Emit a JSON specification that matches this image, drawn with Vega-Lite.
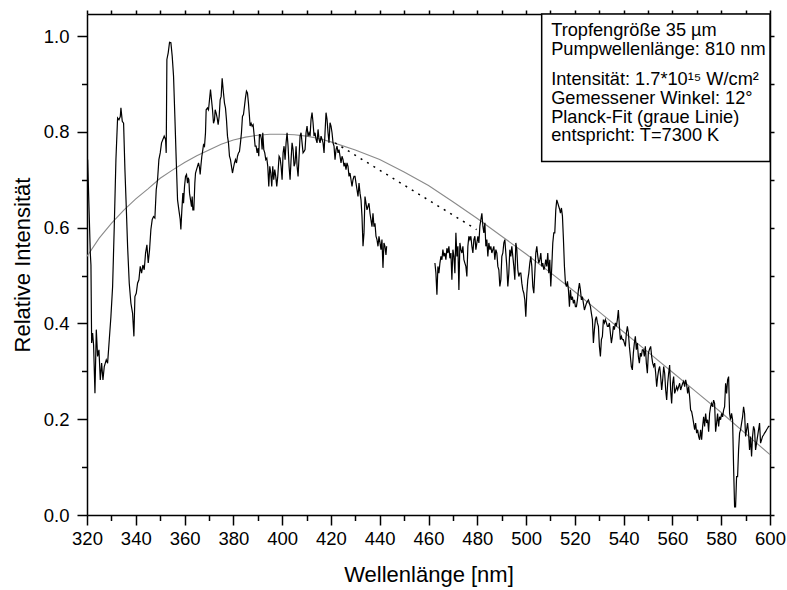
{
  "$schema": "https://vega.github.io/schema/vega-lite/v6.json",
  "width": 683,
  "height": 501,
  "autosize": {"type": "none"},
  "padding": {"left": 87, "top": 14, "right": 17, "bottom": 75},
  "background": "white",
  "config": {
    "font": "Liberation Sans",
    "view": {"stroke": null},
    "axis": {
      "grid": false,
      "domainColor": "black",
      "domainWidth": 1.5,
      "tickColor": "black",
      "tickWidth": 1.5,
      "labelColor": "black",
      "titleColor": "black",
      "labelFont": "Liberation Sans",
      "titleFont": "Liberation Sans",
      "titleFontWeight": "normal",
      "labelOverlap": false,
      "labelFlush": false
    }
  },
  "datasets": {
    "spectrum": [
      {"s":1,"nm":320.26,"v":0.742},{"s":1,"nm":321.35,"v":0.547},{"s":1,"nm":321.62,"v":0.522},{"s":1,"nm":321.9,"v":0.359},{"s":1,"nm":322.3,"v":0.38},{"s":1,"nm":322.7,"v":0.355},{"s":1,"nm":323.26,"v":0.254},{"s":1,"nm":323.81,"v":0.387},{"s":1,"nm":324.35,"v":0.331},{"s":1,"nm":324.9,"v":0.345},{"s":1,"nm":325.45,"v":0.282},{"s":1,"nm":326.0,"v":0.317},{"s":1,"nm":326.54,"v":0.282},{"s":1,"nm":327.08,"v":0.31},{"s":1,"nm":327.9,"v":0.324},{"s":1,"nm":328.45,"v":0.317},{"s":1,"nm":329.13,"v":0.366},{"s":1,"nm":329.8,"v":0.414},{"s":1,"nm":330.5,"v":0.477},{"s":1,"nm":331.18,"v":0.603},{"s":1,"nm":331.86,"v":0.742},{"s":1,"nm":332.54,"v":0.829},{"s":1,"nm":333.09,"v":0.825},{"s":1,"nm":333.64,"v":0.832},{"s":1,"nm":333.91,"v":0.85},{"s":1,"nm":334.46,"v":0.822},{"s":1,"nm":335.0,"v":0.818},{"s":1,"nm":335.55,"v":0.721},{"s":1,"nm":336.09,"v":0.644},{"s":1,"nm":336.64,"v":0.561},{"s":1,"nm":337.32,"v":0.484},{"s":1,"nm":338.0,"v":0.442},{"s":1,"nm":338.69,"v":0.421},{"s":1,"nm":339.23,"v":0.373},{"s":1,"nm":339.64,"v":0.456},{"s":1,"nm":340.19,"v":0.463},{"s":1,"nm":340.73,"v":0.484},{"s":1,"nm":341.28,"v":0.491},{"s":1,"nm":341.83,"v":0.519},{"s":1,"nm":342.37,"v":0.505},{"s":1,"nm":342.92,"v":0.522},{"s":1,"nm":343.46,"v":0.512},{"s":1,"nm":344.01,"v":0.547},{"s":1,"nm":344.56,"v":0.564},{"s":1,"nm":345.1,"v":0.526},{"s":1,"nm":345.65,"v":0.554},{"s":1,"nm":346.19,"v":0.596},{"s":1,"nm":346.74,"v":0.617},{"s":1,"nm":347.29,"v":0.623},{"s":1,"nm":347.83,"v":0.62},{"s":1,"nm":348.38,"v":0.679},{"s":1,"nm":348.92,"v":0.7},{"s":1,"nm":349.47,"v":0.742},{"s":1,"nm":350.02,"v":0.756},{"s":1,"nm":350.56,"v":0.777},{"s":1,"nm":351.11,"v":0.784},{"s":1,"nm":351.65,"v":0.791},{"s":1,"nm":352.2,"v":0.784},{"s":1,"nm":352.47,"v":0.756},{"s":1,"nm":352.75,"v":0.951},{"s":1,"nm":353.29,"v":0.965},{"s":1,"nm":353.84,"v":0.987},{"s":1,"nm":354.39,"v":0.986},{"s":1,"nm":354.93,"v":0.958},{"s":1,"nm":355.48,"v":0.916},{"s":1,"nm":356.02,"v":0.832},{"s":1,"nm":356.57,"v":0.742},{"s":1,"nm":357.12,"v":0.658},{"s":1,"nm":357.66,"v":0.637},{"s":1,"nm":358.21,"v":0.617},{"s":1,"nm":358.48,"v":0.596},
      {"s":1,"nm":358.89,"v":0.637},{"s":1,"nm":359.3,"v":0.672},{"s":1,"nm":359.57,"v":0.651},{"s":1,"nm":359.98,"v":0.686},{"s":1,"nm":360.39,"v":0.707},{"s":1,"nm":360.8,"v":0.711},{"s":1,"nm":361.21,"v":0.693},{"s":1,"nm":361.48,"v":0.704},{"s":1,"nm":361.76,"v":0.7},{"s":1,"nm":362.03,"v":0.672},{"s":1,"nm":362.44,"v":0.658},{"s":1,"nm":362.85,"v":0.644},{"s":1,"nm":363.12,"v":0.665},{"s":1,"nm":363.39,"v":0.637},{"s":1,"nm":363.8,"v":0.637},{"s":1,"nm":364.21,"v":0.693},{"s":1,"nm":364.49,"v":0.714},{"s":1,"nm":364.9,"v":0.721},{"s":1,"nm":365.3,"v":0.728},{"s":1,"nm":365.71,"v":0.735},{"s":1,"nm":366.12,"v":0.725},{"s":1,"nm":366.4,"v":0.711},{"s":1,"nm":366.67,"v":0.728},{"s":1,"nm":367.08,"v":0.749},{"s":1,"nm":367.49,"v":0.763},{"s":1,"nm":367.76,"v":0.773},{"s":1,"nm":368.17,"v":0.77},{"s":1,"nm":368.58,"v":0.798},{"s":1,"nm":368.85,"v":0.846},{"s":1,"nm":369.4,"v":0.85},{"s":1,"nm":369.81,"v":0.846},{"s":1,"nm":370.22,"v":0.867},{"s":1,"nm":370.63,"v":0.888},{"s":1,"nm":371.04,"v":0.867},{"s":1,"nm":371.45,"v":0.846},{"s":1,"nm":371.86,"v":0.818},{"s":1,"nm":372.27,"v":0.825},{"s":1,"nm":372.54,"v":0.846},{"s":1,"nm":372.95,"v":0.839},{"s":1,"nm":373.36,"v":0.829},{"s":1,"nm":373.77,"v":0.815},{"s":1,"nm":374.18,"v":0.832},{"s":1,"nm":374.59,"v":0.867},{"s":1,"nm":375.0,"v":0.874},{"s":1,"nm":375.41,"v":0.912},{"s":1,"nm":375.82,"v":0.888},{"s":1,"nm":376.36,"v":0.86},{"s":1,"nm":376.77,"v":0.85},{"s":1,"nm":377.18,"v":0.825},{"s":1,"nm":377.59,"v":0.791},{"s":1,"nm":378.0,"v":0.777},{"s":1,"nm":378.41,"v":0.749},{"s":1,"nm":378.82,"v":0.742},{"s":1,"nm":379.23,"v":0.728},{"s":1,"nm":379.64,"v":0.714},{"s":1,"nm":380.05,"v":0.725},{"s":1,"nm":380.46,"v":0.735},{"s":1,"nm":380.87,"v":0.742},{"s":1,"nm":381.28,"v":0.735},{"s":1,"nm":381.69,"v":0.749},{"s":1,"nm":382.1,"v":0.756},{"s":1,"nm":382.5,"v":0.759},{"s":1,"nm":382.91,"v":0.777},{"s":1,"nm":383.32,"v":0.798},{"s":1,"nm":383.73,"v":0.832},{"s":1,"nm":384.14,"v":0.836},{"s":1,"nm":384.55,"v":0.853},{"s":1,"nm":384.96,"v":0.871},{"s":1,"nm":385.37,"v":0.885},{"s":1,"nm":385.78,"v":0.881},{"s":1,"nm":386.19,"v":0.86},{"s":1,"nm":386.6,"v":0.832},{"s":1,"nm":386.87,"v":0.812},{"s":1,"nm":387.28,"v":0.818},{"s":1,"nm":387.69,"v":0.812},{"s":1,"nm":388.1,"v":0.815},{"s":1,"nm":388.51,"v":0.794},{"s":1,"nm":388.92,"v":0.77},{"s":1,"nm":389.33,"v":0.77},{"s":1,"nm":389.74,"v":0.756},{"s":1,"nm":390.15,"v":0.766},{"s":1,"nm":390.42,"v":0.749},{"s":1,"nm":390.69,"v":0.794},{"s":1,"nm":390.97,"v":0.794},{"s":1,"nm":391.24,"v":0.791},{"s":1,"nm":391.51,"v":0.784},{"s":1,"nm":391.79,"v":0.763},{"s":1,"nm":392.06,"v":0.798},{"s":1,"nm":392.47,"v":0.763},{"s":1,"nm":392.88,"v":0.756},{"s":1,"nm":393.29,"v":0.742},{"s":1,"nm":393.7,"v":0.745},{"s":1,"nm":394.11,"v":0.728},{"s":1,"nm":394.52,"v":0.686},{"s":1,"nm":394.93,"v":0.728},{"s":1,"nm":395.33,"v":0.714},{"s":1,"nm":395.74,"v":0.686},{"s":1,"nm":396.15,"v":0.728},{"s":1,"nm":396.56,"v":0.7},{"s":1,"nm":396.97,"v":0.721},{"s":1,"nm":397.38,"v":0.707},{"s":1,"nm":397.79,"v":0.686},{"s":1,"nm":398.2,"v":0.707},
      {"s":1,"nm":398.75,"v":0.749},{"s":1,"nm":399.16,"v":0.745},{"s":1,"nm":399.57,"v":0.728},{"s":1,"nm":399.98,"v":0.7},{"s":1,"nm":400.39,"v":0.756},{"s":1,"nm":400.79,"v":0.77},{"s":1,"nm":401.2,"v":0.742},{"s":1,"nm":401.61,"v":0.777},{"s":1,"nm":402.02,"v":0.798},{"s":1,"nm":402.43,"v":0.77},{"s":1,"nm":402.84,"v":0.728},{"s":1,"nm":403.25,"v":0.7},{"s":1,"nm":403.66,"v":0.742},{"s":1,"nm":404.07,"v":0.777},{"s":1,"nm":404.48,"v":0.763},{"s":1,"nm":404.89,"v":0.728},{"s":1,"nm":405.3,"v":0.735},{"s":1,"nm":405.71,"v":0.77},{"s":1,"nm":406.12,"v":0.728},{"s":1,"nm":406.53,"v":0.707},{"s":1,"nm":406.94,"v":0.749},{"s":1,"nm":407.35,"v":0.791},{"s":1,"nm":407.76,"v":0.798},{"s":1,"nm":408.17,"v":0.777},{"s":1,"nm":408.58,"v":0.756},{"s":1,"nm":408.98,"v":0.759},{"s":1,"nm":409.39,"v":0.763},{"s":1,"nm":409.8,"v":0.798},{"s":1,"nm":410.21,"v":0.812},{"s":1,"nm":410.62,"v":0.791},{"s":1,"nm":411.03,"v":0.798},{"s":1,"nm":411.44,"v":0.791},{"s":1,"nm":411.85,"v":0.826},{"s":1,"nm":412.26,"v":0.84},{"s":1,"nm":412.67,"v":0.819},{"s":1,"nm":413.08,"v":0.791},{"s":1,"nm":413.49,"v":0.798},{"s":1,"nm":413.9,"v":0.784},{"s":1,"nm":414.31,"v":0.777},{"s":1,"nm":414.72,"v":0.805},{"s":1,"nm":415.13,"v":0.784},{"s":1,"nm":415.54,"v":0.777},{"s":1,"nm":415.95,"v":0.791},{"s":1,"nm":416.36,"v":0.784},{"s":1,"nm":416.77,"v":0.777},{"s":1,"nm":417.18,"v":0.756},{"s":1,"nm":417.58,"v":0.798},{"s":1,"nm":417.99,"v":0.84},{"s":1,"nm":418.4,"v":0.826},{"s":1,"nm":418.81,"v":0.798},{"s":1,"nm":419.22,"v":0.777},{"s":1,"nm":419.63,"v":0.819},{"s":1,"nm":420.04,"v":0.812},{"s":1,"nm":420.45,"v":0.798},{"s":1,"nm":420.86,"v":0.777},{"s":1,"nm":421.27,"v":0.77},{"s":1,"nm":421.68,"v":0.742},{"s":1,"nm":422.09,"v":0.763},{"s":1,"nm":422.5,"v":0.77},{"s":1,"nm":422.91,"v":0.756},{"s":1,"nm":423.32,"v":0.763},{"s":1,"nm":423.73,"v":0.749},{"s":1,"nm":424.14,"v":0.735},{"s":1,"nm":424.55,"v":0.749},{"s":1,"nm":424.96,"v":0.742},{"s":1,"nm":425.37,"v":0.728},{"s":1,"nm":425.77,"v":0.735},{"s":1,"nm":426.18,"v":0.721},{"s":1,"nm":426.59,"v":0.735},{"s":1,"nm":427.0,"v":0.728},{"s":1,"nm":427.41,"v":0.707},{"s":1,"nm":427.82,"v":0.714},{"s":1,"nm":428.23,"v":0.7},{"s":1,"nm":428.64,"v":0.686},{"s":1,"nm":429.05,"v":0.7},{"s":1,"nm":429.46,"v":0.707},{"s":1,"nm":429.87,"v":0.707},{"s":1,"nm":430.28,"v":0.693},{"s":1,"nm":430.69,"v":0.679},{"s":1,"nm":431.1,"v":0.665},{"s":1,"nm":431.51,"v":0.693},{"s":1,"nm":431.92,"v":0.672},{"s":1,"nm":432.33,"v":0.658},{"s":1,"nm":432.74,"v":0.623},{"s":1,"nm":433.15,"v":0.561},{"s":1,"nm":433.56,"v":0.589},{"s":1,"nm":433.96,"v":0.665},{"s":1,"nm":434.37,"v":0.651},{"s":1,"nm":434.78,"v":0.637},{"s":1,"nm":435.19,"v":0.644},{"s":1,"nm":435.6,"v":0.651},{"s":1,"nm":436.01,"v":0.63},{"s":1,"nm":436.42,"v":0.616},{"s":1,"nm":436.83,"v":0.602},{"s":1,"nm":437.24,"v":0.63},{"s":1,"nm":437.65,"v":0.602},{"s":1,"nm":438.06,"v":0.609},{"s":1,"nm":438.47,"v":0.582},{"s":1,"nm":438.88,"v":0.575},{"s":1,"nm":439.29,"v":0.561},{"s":1,"nm":439.7,"v":0.582},{"s":1,"nm":440.11,"v":0.568},{"s":1,"nm":440.52,"v":0.554},{"s":1,"nm":440.92,"v":0.575},{"s":1,"nm":441.33,"v":0.516},{"s":1,"nm":441.74,"v":0.568},{"s":1,"nm":442.15,"v":0.561},{"s":1,"nm":442.56,"v":0.543},{"s":1,"nm":442.84,"v":0.561},
      {"s":2,"nm":462.63,"v":0.526},{"s":2,"nm":463.04,"v":0.505},{"s":2,"nm":463.45,"v":0.46},{"s":2,"nm":463.86,"v":0.519},{"s":2,"nm":464.27,"v":0.505},{"s":2,"nm":464.68,"v":0.526},{"s":2,"nm":465.09,"v":0.54},{"s":2,"nm":465.5,"v":0.533},{"s":2,"nm":465.9,"v":0.554},{"s":2,"nm":466.31,"v":0.54},{"s":2,"nm":466.72,"v":0.547},{"s":2,"nm":467.13,"v":0.533},{"s":2,"nm":467.54,"v":0.557},{"s":2,"nm":467.95,"v":0.547},{"s":2,"nm":468.36,"v":0.561},{"s":2,"nm":468.77,"v":0.536},{"s":2,"nm":469.18,"v":0.547},{"s":2,"nm":469.59,"v":0.491},{"s":2,"nm":470.0,"v":0.554},{"s":2,"nm":470.41,"v":0.54},{"s":2,"nm":470.82,"v":0.505},{"s":2,"nm":471.23,"v":0.589},{"s":2,"nm":471.64,"v":0.54},{"s":2,"nm":472.05,"v":0.561},{"s":2,"nm":472.46,"v":0.47},{"s":2,"nm":472.87,"v":0.568},{"s":2,"nm":473.28,"v":0.554},{"s":2,"nm":473.69,"v":0.547},{"s":2,"nm":474.1,"v":0.561},{"s":2,"nm":474.51,"v":0.533},{"s":2,"nm":474.91,"v":0.526},{"s":2,"nm":475.32,"v":0.519},{"s":2,"nm":475.73,"v":0.498},{"s":2,"nm":476.14,"v":0.561},{"s":2,"nm":476.55,"v":0.582},{"s":2,"nm":476.96,"v":0.575},{"s":2,"nm":477.37,"v":0.582},{"s":2,"nm":477.78,"v":0.561},{"s":2,"nm":478.19,"v":0.547},{"s":2,"nm":478.6,"v":0.575},{"s":2,"nm":479.01,"v":0.582},{"s":2,"nm":479.42,"v":0.554},{"s":2,"nm":479.83,"v":0.568},{"s":2,"nm":480.24,"v":0.582},{"s":2,"nm":480.65,"v":0.568},{"s":2,"nm":481.06,"v":0.603},{"s":2,"nm":481.47,"v":0.617},{"s":2,"nm":481.88,"v":0.63},{"s":2,"nm":482.29,"v":0.603},{"s":2,"nm":482.7,"v":0.589},{"s":2,"nm":483.11,"v":0.61},{"s":2,"nm":483.51,"v":0.561},{"s":2,"nm":483.92,"v":0.575},{"s":2,"nm":484.33,"v":0.54},{"s":2,"nm":484.74,"v":0.568},{"s":2,"nm":485.15,"v":0.554},{"s":2,"nm":485.56,"v":0.561},{"s":2,"nm":485.97,"v":0.547},{"s":2,"nm":486.38,"v":0.554},{"s":2,"nm":486.79,"v":0.561},{"s":2,"nm":487.2,"v":0.533},{"s":2,"nm":487.61,"v":0.554},{"s":2,"nm":488.02,"v":0.547},{"s":2,"nm":488.43,"v":0.519},{"s":2,"nm":488.84,"v":0.512},{"s":2,"nm":489.25,"v":0.477},{"s":2,"nm":489.66,"v":0.491},{"s":2,"nm":490.07,"v":0.54},{"s":2,"nm":490.48,"v":0.547},{"s":2,"nm":490.89,"v":0.568},{"s":2,"nm":491.3,"v":0.575},{"s":2,"nm":491.7,"v":0.547},{"s":2,"nm":492.11,"v":0.519},{"s":2,"nm":492.52,"v":0.477},{"s":2,"nm":492.93,"v":0.505},{"s":2,"nm":493.34,"v":0.554},{"s":2,"nm":493.75,"v":0.54},{"s":2,"nm":494.16,"v":0.561},{"s":2,"nm":494.57,"v":0.54},{"s":2,"nm":494.98,"v":0.519},{"s":2,"nm":495.39,"v":0.491},{"s":2,"nm":495.8,"v":0.568},{"s":2,"nm":496.21,"v":0.554},{"s":2,"nm":496.62,"v":0.512},{"s":2,"nm":497.03,"v":0.498},{"s":2,"nm":497.44,"v":0.505},{"s":2,"nm":497.85,"v":0.505},{"s":2,"nm":498.26,"v":0.484},{"s":2,"nm":498.67,"v":0.47},{"s":2,"nm":499.08,"v":0.463},{"s":2,"nm":499.49,"v":0.449},{"s":2,"nm":499.89,"v":0.414},{"s":2,"nm":500.3,"v":0.463},{"s":2,"nm":500.71,"v":0.491},{"s":2,"nm":501.12,"v":0.505},{"s":2,"nm":501.53,"v":0.526},{"s":2,"nm":501.94,"v":0.54},{"s":2,"nm":502.35,"v":0.519},{"s":2,"nm":502.76,"v":0.477},{"s":2,"nm":503.17,"v":0.463},{"s":2,"nm":503.58,"v":0.505},{"s":2,"nm":503.99,"v":0.547},{"s":2,"nm":504.4,"v":0.561},{"s":2,"nm":504.81,"v":0.54},{"s":2,"nm":505.22,"v":0.526},{"s":2,"nm":505.63,"v":0.533},{"s":2,"nm":506.04,"v":0.547},{"s":2,"nm":506.45,"v":0.519},{"s":2,"nm":506.86,"v":0.526},{"s":2,"nm":507.27,"v":0.512},{"s":2,"nm":507.68,"v":0.519},{"s":2,"nm":508.08,"v":0.533},{"s":2,"nm":508.49,"v":0.519},{"s":2,"nm":508.9,"v":0.547},{"s":2,"nm":509.31,"v":0.505},{"s":2,"nm":509.72,"v":0.533},{"s":2,"nm":510.13,"v":0.477},{"s":2,"nm":510.54,"v":0.519},{"s":2,"nm":510.95,"v":0.568},{"s":2,"nm":511.36,"v":0.589},{"s":2,"nm":511.77,"v":0.589},{"s":2,"nm":512.18,"v":0.637},{"s":2,"nm":512.59,"v":0.658},{"s":2,"nm":513.0,"v":0.651},{"s":2,"nm":513.41,"v":0.644},{"s":2,"nm":513.82,"v":0.637},
      {"s":2,"nm":514.09,"v":0.63},{"s":2,"nm":514.5,"v":0.641},{"s":2,"nm":514.91,"v":0.624},{"s":2,"nm":515.32,"v":0.575},{"s":2,"nm":515.73,"v":0.519},{"s":2,"nm":516.14,"v":0.484},{"s":2,"nm":516.55,"v":0.477},{"s":2,"nm":516.96,"v":0.488},{"s":2,"nm":517.37,"v":0.47},{"s":2,"nm":517.78,"v":0.435},{"s":2,"nm":518.18,"v":0.47},{"s":2,"nm":518.59,"v":0.449},{"s":2,"nm":519.0,"v":0.456},{"s":2,"nm":519.41,"v":0.442},{"s":2,"nm":519.82,"v":0.449},{"s":2,"nm":520.23,"v":0.435},{"s":2,"nm":520.64,"v":0.435},{"s":2,"nm":521.05,"v":0.449},{"s":2,"nm":521.46,"v":0.47},{"s":2,"nm":521.87,"v":0.484},{"s":2,"nm":522.28,"v":0.47},{"s":2,"nm":522.69,"v":0.449},{"s":2,"nm":523.1,"v":0.456},{"s":2,"nm":523.51,"v":0.442},{"s":2,"nm":523.92,"v":0.428},{"s":2,"nm":524.33,"v":0.435},{"s":2,"nm":524.74,"v":0.442},{"s":2,"nm":525.15,"v":0.446},{"s":2,"nm":525.56,"v":0.449},{"s":2,"nm":525.97,"v":0.442},{"s":2,"nm":526.38,"v":0.435},{"s":2,"nm":526.78,"v":0.421},{"s":2,"nm":527.19,"v":0.408},{"s":2,"nm":527.6,"v":0.359},{"s":2,"nm":528.01,"v":0.387},{"s":2,"nm":528.42,"v":0.408},{"s":2,"nm":528.83,"v":0.414},{"s":2,"nm":529.24,"v":0.401},{"s":2,"nm":529.65,"v":0.394},{"s":2,"nm":530.06,"v":0.352},{"s":2,"nm":530.47,"v":0.331},{"s":2,"nm":530.88,"v":0.366},{"s":2,"nm":531.29,"v":0.373},{"s":2,"nm":531.7,"v":0.408},{"s":2,"nm":532.11,"v":0.401},{"s":2,"nm":532.52,"v":0.408},{"s":2,"nm":532.93,"v":0.401},{"s":2,"nm":533.34,"v":0.394},{"s":2,"nm":533.75,"v":0.394},{"s":2,"nm":534.16,"v":0.401},{"s":2,"nm":534.56,"v":0.38},{"s":2,"nm":534.97,"v":0.359},{"s":2,"nm":535.38,"v":0.373},{"s":2,"nm":535.79,"v":0.394},{"s":2,"nm":536.2,"v":0.387},{"s":2,"nm":536.61,"v":0.401},{"s":2,"nm":537.02,"v":0.394},{"s":2,"nm":537.43,"v":0.408},{"s":2,"nm":537.84,"v":0.428},{"s":2,"nm":538.25,"v":0.394},{"s":2,"nm":538.66,"v":0.366},{"s":2,"nm":539.07,"v":0.373},{"s":2,"nm":539.48,"v":0.366},{"s":2,"nm":539.89,"v":0.366},{"s":2,"nm":540.3,"v":0.359},{"s":2,"nm":540.71,"v":0.352},{"s":2,"nm":541.12,"v":0.38},{"s":2,"nm":541.53,"v":0.394},{"s":2,"nm":541.94,"v":0.38},{"s":2,"nm":542.35,"v":0.352},{"s":2,"nm":542.76,"v":0.331},{"s":2,"nm":543.16,"v":0.31},{"s":2,"nm":543.57,"v":0.303},{"s":2,"nm":543.98,"v":0.338},{"s":2,"nm":544.39,"v":0.359},{"s":2,"nm":544.8,"v":0.373},{"s":2,"nm":545.21,"v":0.345},{"s":2,"nm":545.62,"v":0.359},{"s":2,"nm":546.03,"v":0.331},{"s":2,"nm":546.44,"v":0.317},{"s":2,"nm":546.85,"v":0.338},{"s":2,"nm":547.26,"v":0.331},{"s":2,"nm":547.67,"v":0.345},{"s":2,"nm":548.08,"v":0.345},{"s":2,"nm":548.49,"v":0.331},{"s":2,"nm":548.9,"v":0.352},{"s":2,"nm":549.31,"v":0.317},{"s":2,"nm":549.72,"v":0.296},{"s":2,"nm":550.13,"v":0.338},{"s":2,"nm":550.54,"v":0.345},
      {"s":2,"nm":551.08,"v":0.352},{"s":2,"nm":551.49,"v":0.331},{"s":2,"nm":551.9,"v":0.317},{"s":2,"nm":552.31,"v":0.31},{"s":2,"nm":552.72,"v":0.317},{"s":2,"nm":553.13,"v":0.296},{"s":2,"nm":553.54,"v":0.268},{"s":2,"nm":553.95,"v":0.289},{"s":2,"nm":554.36,"v":0.303},{"s":2,"nm":554.77,"v":0.31},{"s":2,"nm":555.18,"v":0.289},{"s":2,"nm":555.59,"v":0.261},{"s":2,"nm":556.0,"v":0.282},{"s":2,"nm":556.41,"v":0.31},{"s":2,"nm":556.82,"v":0.296},{"s":2,"nm":557.23,"v":0.261},{"s":2,"nm":557.64,"v":0.24},{"s":2,"nm":558.05,"v":0.275},{"s":2,"nm":558.45,"v":0.296},{"s":2,"nm":558.86,"v":0.313},{"s":2,"nm":559.27,"v":0.261},{"s":2,"nm":559.68,"v":0.233},{"s":2,"nm":560.09,"v":0.275},{"s":2,"nm":560.5,"v":0.289},{"s":2,"nm":560.91,"v":0.254},{"s":2,"nm":561.32,"v":0.261},{"s":2,"nm":561.73,"v":0.268},{"s":2,"nm":562.14,"v":0.261},{"s":2,"nm":562.55,"v":0.268},{"s":2,"nm":562.96,"v":0.275},{"s":2,"nm":563.37,"v":0.261},{"s":2,"nm":563.78,"v":0.268},{"s":2,"nm":564.19,"v":0.275},{"s":2,"nm":564.6,"v":0.279},{"s":2,"nm":565.01,"v":0.268},{"s":2,"nm":565.42,"v":0.282},{"s":2,"nm":565.83,"v":0.272},{"s":2,"nm":566.24,"v":0.254},{"s":2,"nm":566.65,"v":0.268},{"s":2,"nm":567.05,"v":0.247},{"s":2,"nm":567.46,"v":0.219},{"s":2,"nm":567.87,"v":0.216},{"s":2,"nm":568.28,"v":0.205},{"s":2,"nm":568.69,"v":0.192},{"s":2,"nm":569.1,"v":0.178},{"s":2,"nm":569.51,"v":0.192},{"s":2,"nm":569.92,"v":0.171},{"s":2,"nm":570.33,"v":0.178},{"s":2,"nm":570.74,"v":0.164},{"s":2,"nm":571.15,"v":0.157},{"s":2,"nm":571.56,"v":0.178},{"s":2,"nm":571.97,"v":0.157},{"s":2,"nm":572.38,"v":0.185},{"s":2,"nm":572.79,"v":0.205},{"s":2,"nm":573.2,"v":0.185},{"s":2,"nm":573.61,"v":0.212},{"s":2,"nm":574.02,"v":0.192},{"s":2,"nm":574.43,"v":0.199},{"s":2,"nm":574.84,"v":0.174},{"s":2,"nm":575.24,"v":0.212},{"s":2,"nm":575.65,"v":0.226},{"s":2,"nm":576.06,"v":0.233},{"s":2,"nm":576.47,"v":0.226},{"s":2,"nm":576.88,"v":0.24},{"s":2,"nm":577.29,"v":0.233},{"s":2,"nm":577.7,"v":0.174},{"s":2,"nm":578.11,"v":0.192},{"s":2,"nm":578.52,"v":0.212},{"s":2,"nm":578.93,"v":0.185},{"s":2,"nm":579.34,"v":0.205},{"s":2,"nm":579.75,"v":0.199},{"s":2,"nm":580.16,"v":0.212},{"s":2,"nm":580.57,"v":0.205},{"s":2,"nm":580.98,"v":0.219},{"s":2,"nm":581.39,"v":0.226},{"s":2,"nm":581.8,"v":0.275},{"s":2,"nm":582.21,"v":0.254},{"s":2,"nm":582.62,"v":0.282},{"s":2,"nm":583.03,"v":0.289},{"s":2,"nm":583.43,"v":0.212},{"s":2,"nm":583.84,"v":0.199},{"s":2,"nm":584.25,"v":0.212},{"s":2,"nm":584.66,"v":0.199},{"s":2,"nm":585.07,"v":0.101},{"s":2,"nm":585.48,"v":0.017},{"s":2,"nm":585.89,"v":0.017},{"s":2,"nm":586.3,"v":0.08},{"s":2,"nm":586.71,"v":0.08},{"s":2,"nm":587.12,"v":0.136},{"s":2,"nm":587.53,"v":0.171},{"s":2,"nm":587.94,"v":0.178},{"s":2,"nm":588.35,"v":0.192},{"s":2,"nm":588.76,"v":0.205},{"s":2,"nm":589.17,"v":0.226},{"s":2,"nm":589.58,"v":0.212},{"s":2,"nm":589.99,"v":0.164},{"s":2,"nm":590.4,"v":0.178},{"s":2,"nm":590.81,"v":0.192},{"s":2,"nm":591.22,"v":0.171},{"s":2,"nm":591.62,"v":0.136},{"s":2,"nm":592.03,"v":0.164},{"s":2,"nm":592.44,"v":0.122},{"s":2,"nm":592.85,"v":0.164},{"s":2,"nm":593.26,"v":0.185},{"s":2,"nm":593.67,"v":0.178},{"s":2,"nm":594.08,"v":0.136},{"s":2,"nm":594.49,"v":0.15},{"s":2,"nm":594.9,"v":0.164},{"s":2,"nm":595.31,"v":0.178},{"s":2,"nm":595.72,"v":0.192},{"s":2,"nm":596.13,"v":0.15},{"s":2,"nm":596.54,"v":0.157},{"s":2,"nm":596.95,"v":0.164},{"s":2,"nm":597.36,"v":0.167},{"s":2,"nm":597.77,"v":0.171},{"s":2,"nm":598.18,"v":0.174},{"s":2,"nm":598.59,"v":0.178},{"s":2,"nm":599.0,"v":0.181},{"s":2,"nm":599.41,"v":0.185},{"s":2,"nm":599.82,"v":0.185}
    ],
    "fit": [
      {"nm":320,"v":0.54},{"nm":325,"v":0.578},{"nm":330,"v":0.609},{"nm":335,"v":0.636},{"nm":340,"v":0.66},{"nm":345,"v":0.681},{"nm":350,"v":0.703},{"nm":355,"v":0.72},{"nm":360,"v":0.736},{"nm":365,"v":0.75},{"nm":370,"v":0.762},{"nm":375,"v":0.774},{"nm":380,"v":0.783},{"nm":385,"v":0.789},{"nm":390,"v":0.793},{"nm":395,"v":0.795},{"nm":400,"v":0.795},{"nm":405,"v":0.794},{"nm":410,"v":0.791},{"nm":415,"v":0.786},{"nm":420,"v":0.779},{"nm":430,"v":0.762},{"nm":440,"v":0.742},{"nm":450,"v":0.716},{"nm":460,"v":0.688},{"nm":470,"v":0.654},{"nm":480,"v":0.619},{"nm":490,"v":0.582},{"nm":500,"v":0.545},{"nm":510,"v":0.506},{"nm":520,"v":0.466},{"nm":530,"v":0.424},{"nm":540,"v":0.382},{"nm":550,"v":0.34},{"nm":560,"v":0.298},{"nm":570,"v":0.256},{"nm":580,"v":0.214},{"nm":590,"v":0.17},{"nm":600,"v":0.126}
    ],
    "bridge": [
      {"nm":421.7,"v":0.777},{"nm":479.7,"v":0.596}
    ],
    "info": [
      {"block":1,"lines":["Tropfengröße 35 µm","Pumpwellenlänge: 810 nm"]},
      {"block":2,"lines":["Intensität: 1.7*10¹⁵ W/cm²","Gemessener Winkel: 12°","Planck-Fit (graue Linie)","entspricht: T=7300 K"]}
    ]
  },
  "resolve": {"axis": {"x": "independent", "y": "independent"}},
  "layer": [
    {
      "data": {"name": "fit"},
      "mark": {"type": "line", "color": "#8a8a8a", "strokeWidth": 1.1},
      "encoding": {
        "x": {"field": "nm", "type": "quantitative",
              "scale": {"domain": [320, 600], "nice": false, "zero": false},
              "axis": {"orient": "top", "values": [320,330,340,350,360,370,380,390,400,410,420,430,440,450,460,470,480,490,500,510,520,530,540,550,560,570,580,590,600],
                       "labels": false, "title": null, "tickSize": 4}},
        "y": {"field": "v", "type": "quantitative",
              "scale": {"domain": [0, 1.046], "nice": false, "zero": false},
              "axis": {"orient": "right", "values": [0,0.1,0.2,0.3,0.4,0.5,0.6,0.7,0.8,0.9,1.0],
                       "labels": false, "title": null, "tickSize": 4}}
      }
    },
    {
      "data": {"name": "spectrum"},
      "mark": {"type": "line", "color": "black", "strokeWidth": 1.2},
      "encoding": {
        "x": {"field": "nm", "type": "quantitative",
              "scale": {"domain": [320, 600], "nice": false, "zero": false},
              "axis": {"orient": "bottom", "values": [320,330,340,350,360,370,380,390,400,410,420,430,440,450,460,470,480,490,500,510,520,530,540,550,560,570,580,590,600],
                       "format": "d",
                       "labelExpr": "datum.value % 20 === 0 ? datum.label : ''",
                       "tickSize": {"condition": {"test": "datum.value % 20 !== 0", "value": 5.5}, "value": 10},
                       "labelFontSize": 18.5, "labelPadding": 4,
                       "title": "Wellenlänge [nm]", "titleFontSize": 22, "titlePadding": 17}},
        "y": {"field": "v", "type": "quantitative",
              "scale": {"domain": [0, 1.046], "nice": false, "zero": false},
              "axis": {"orient": "left", "values": [0,0.1,0.2,0.3,0.4,0.5,0.6,0.7,0.8,0.9,1.0],
                       "format": ".1f",
                       "labelExpr": "round(datum.value * 10) % 2 === 0 ? datum.label : ''",
                       "tickSize": {"condition": {"test": "round(datum.value * 10) % 2 !== 0", "value": 5.5}, "value": 10},
                       "labelFontSize": 18.5, "labelPadding": 8,
                       "title": "Relative Intensität", "titleFontSize": 22, "titlePadding": 9}},
        "detail": {"field": "s", "type": "nominal"}
      }
    },
    {
      "data": {"name": "bridge"},
      "mark": {"type": "line", "color": "black", "strokeWidth": 1.5, "strokeDash": [2, 5.5]},
      "encoding": {
        "x": {"field": "nm", "type": "quantitative", "scale": {"domain": [320, 600], "nice": false, "zero": false}, "axis": null},
        "y": {"field": "v", "type": "quantitative", "scale": {"domain": [0, 1.046], "nice": false, "zero": false}, "axis": null}
      }
    },
    {
      "data": {"name": "info"},
      "transform": [{"filter": "datum.block === 1"}],
      "mark": {"type": "rect", "fill": "white", "stroke": "black", "strokeWidth": 1.5},
      "encoding": {
        "x": {"datum": 506.4, "type": "quantitative", "axis": null},
        "x2": {"datum": 600},
        "y": {"datum": 0.738, "type": "quantitative", "axis": null},
        "y2": {"datum": 1.046}
      }
    },
    {
      "data": {"name": "info"},
      "transform": [{"filter": "datum.block === 1"}],
      "mark": {"type": "text", "align": "left", "baseline": "alphabetic", "fontSize": 18.2, "lineHeight": 18.6, "color": "black"},
      "encoding": {
        "x": {"datum": 510.3, "type": "quantitative", "axis": null},
        "y": {"datum": 1.0, "type": "quantitative", "axis": null},
        "text": {"field": "lines"}
      }
    },
    {
      "data": {"name": "info"},
      "transform": [{"filter": "datum.block === 2"}],
      "mark": {"type": "text", "align": "left", "baseline": "alphabetic", "fontSize": 18.2, "lineHeight": 18.6, "color": "black"},
      "encoding": {
        "x": {"datum": 510.3, "type": "quantitative", "axis": null},
        "y": {"datum": 0.897, "type": "quantitative", "axis": null},
        "text": {"field": "lines"}
      }
    }
  ]
}
